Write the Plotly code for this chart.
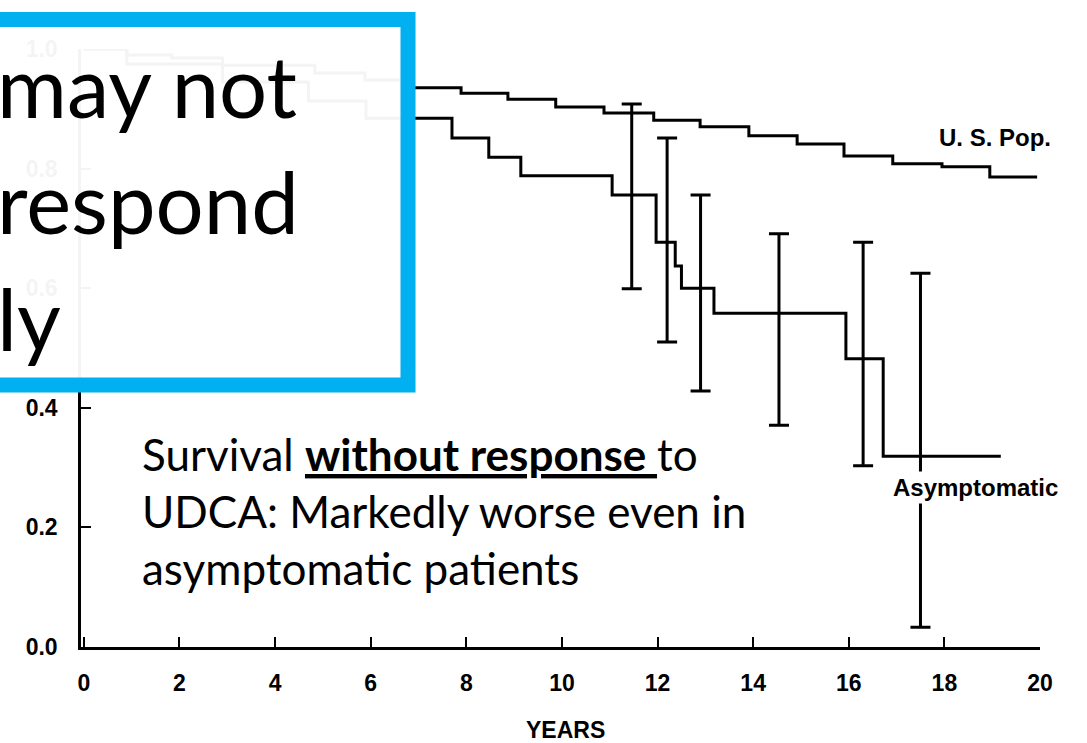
import plotly.graph_objects as go

# ---------------- data ----------------
us_years = [0, 0.9, 1.84, 2.9, 4.83, 5.88, 6.8, 7.89, 8.87, 9.87, 10.88, 11.92,
            12.89, 13.91, 14.92, 15.90, 16.92, 17.95, 18.95, 19.94]
us_surv = [1.0, 0.99, 0.985, 0.973, 0.96, 0.948, 0.935, 0.926, 0.916, 0.903, 0.893,
           0.881, 0.870, 0.855, 0.841, 0.821, 0.808, 0.803, 0.786, 0.786]

asym_years = [0, 0.9, 2.9, 4.7, 5.9, 7.7, 8.47, 9.14, 11.05, 11.97, 12.37, 12.5,
              13.18, 15.94, 16.72, 19.18]
asym_surv = [1.0, 0.975, 0.945, 0.913, 0.884, 0.851, 0.819, 0.788, 0.756, 0.677,
             0.637, 0.600, 0.558, 0.482, 0.319, 0.319]

ci_years = [11.46, 12.2, 12.9, 14.54, 16.3, 17.5]
ci_mid = [0.756, 0.677, 0.600, 0.558, 0.482, 0.319]
ci_upper = [0.908, 0.851, 0.756, 0.691, 0.677, 0.625]
ci_lower = [0.599, 0.510, 0.428, 0.371, 0.303, 0.033]

x_ticks = [0, 2, 4, 6, 8, 10, 12, 14, 16, 18, 20]
y_ticks = [0.0, 0.2, 0.4, 0.6, 0.8, 1.0]
y_tick_text = ["0.0", "0.2", "0.4", "0.6", "0.8", "1.0"]

curve_labels = ["U. S. Pop.", "Asymptomatic"]
x_title = "YEARS"
box_lines = ["may not", "respond", "ly"]
note_html = ("Survival <b><span style=\"text-decoration:underline\">without response </span></b>to"
             "<br>UDCA: Markedly worse even in<br>asymptomatic patients")

# ---------------- layout geometry ----------------
W, H = 1087, 743
L, R, T, B = 81, 1040, 49, 647


def px(xp):
    return (xp - L) / (R - L)


def py(yp):
    return (B - yp) / (B - T)


fig = go.Figure()

fig.add_trace(go.Scatter(x=us_years, y=us_surv, mode="lines", line_shape="hv",
                         line=dict(color="black", width=3), hoverinfo="skip"))
fig.add_trace(go.Scatter(x=asym_years, y=asym_surv, mode="lines", line_shape="hv",
                         line=dict(color="black", width=3), hoverinfo="skip"))
fig.add_trace(go.Scatter(
    x=ci_years, y=ci_mid, mode="markers",
    marker=dict(size=1, color="rgba(0,0,0,0)"),
    error_y=dict(type="data", symmetric=False,
                 array=[u - m for u, m in zip(ci_upper, ci_mid)],
                 arrayminus=[m - l for m, l in zip(ci_mid, ci_lower)],
                 color="black", thickness=3, width=10),
    hoverinfo="skip"))

axis_font = dict(family="Liberation Sans, Arial, sans-serif", size=23, color="black",
                 weight="bold")

fig.update_layout(
    width=W, height=H,
    margin=dict(l=L, r=W - R, t=T, b=H - B),
    paper_bgcolor="white", plot_bgcolor="white",
    showlegend=False,
    xaxis=dict(range=[-0.06, 20], tickvals=x_ticks, ticks="inside", ticklen=10,
               tickwidth=2, tickcolor="black", showline=True, linecolor="black",
               linewidth=2.5, showgrid=False, zeroline=False, automargin=False,
               tickfont=axis_font, ticklabelstandoff=14),
    yaxis=dict(range=[0, 1.0], tickvals=y_ticks, ticktext=y_tick_text,
               ticks="inside", ticklen=10, tickwidth=2, tickcolor="black",
               showline=True, linecolor="black", linewidth=2.5, showgrid=False,
               zeroline=False, automargin=False, tickfont=axis_font,
               ticklabelstandoff=16),
)

# x-axis title
fig.add_annotation(xref="paper", yref="paper", x=px(565), y=py(730),
                   xanchor="center", yanchor="middle", showarrow=False,
                   text=x_title, font=dict(axis_font, size=23))

# overlay box with blue border
fig.add_shape(type="rect", xref="paper", yref="paper",
              x0=px(-30), x1=px(408), y0=py(385), y1=py(19.5),
              line=dict(color="#00B0F0", width=15),
              fillcolor="rgba(255,255,255,0.955)", layer="above")

# big text in box, one annotation per line
big_size = 85
for line_text, baseline in zip(box_lines, [116, 232, 349]):
    fig.add_annotation(xref="paper", yref="paper", x=px(-4), y=py(baseline - 0.36 * big_size),
                       xanchor="left", yanchor="middle", align="left", showarrow=False,
                       text=line_text, borderpad=0,
                       font=dict(family="Lato, Open Sans, sans-serif", size=big_size,
                                 color="black"))

# note text
fig.add_annotation(xref="paper", yref="paper", x=px(141), y=py(511),
                   xanchor="left", yanchor="middle", align="left", showarrow=False,
                   text=note_html, borderpad=0,
                   font=dict(family="Lato, Open Sans, sans-serif", size=44, color="black"))

# curve labels
fig.add_annotation(xref="paper", yref="paper", x=px(995), y=py(137),
                   xanchor="center", yanchor="middle", showarrow=False,
                   text=curve_labels[0], font=dict(axis_font, size=24))
fig.add_annotation(xref="paper", yref="paper", x=px(975), y=py(487),
                   xanchor="center", yanchor="middle", showarrow=False,
                   text=curve_labels[1], bgcolor="white", borderpad=2,
                   font=dict(axis_font, size=24))

fig.write_html("out.html")
